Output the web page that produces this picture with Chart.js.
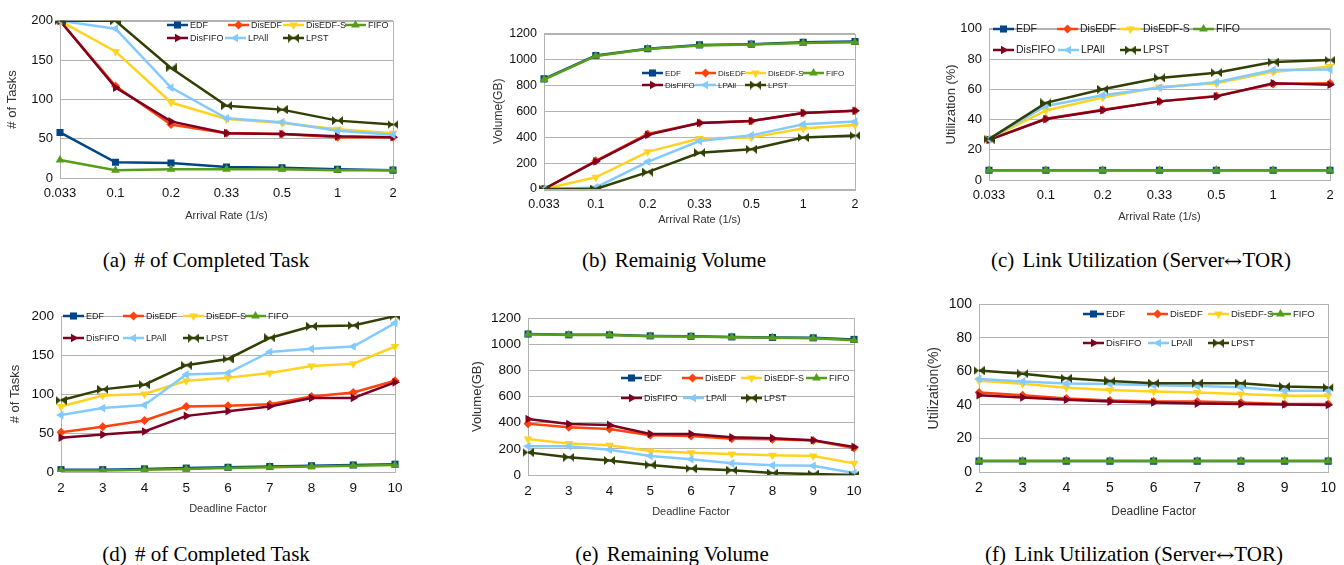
<!DOCTYPE html>
<html>
<head>
<meta charset="utf-8">
<script src="https://cdn.jsdelivr.net/npm/chart.js@4.4.0/dist/chart.umd.min.js"></script>
<style>
    html, body { margin: 0; padding: 0; background: #fff; }
    #page { position: relative; width: 1344px; height: 565px; overflow: hidden; }
    .panel { position: absolute; }
    .caption {
        position: absolute;
        font-family: 'Liberation Serif', 'Times New Roman', serif;
        font-size: 21px;
        color: #000;
        white-space: nowrap;
        transform: translate(-50%, -50%);
    }
    .caption .tag { margin-right: 3px; }
    .caption .arr {
        display: inline-block;
        font-family: 'DejaVu Serif', serif;
        font-size: 17px;
        transform: scaleX(1.3);
        margin: 0 2px;
    }
</style>
</head>
<body>
<div id="page"></div>
<script>
// Categories
const arrivalRates = ['0.033', '0.1', '0.2', '0.33', '0.5', '1', '2'];
const deadlineFactors = ['2', '3', '4', '5', '6', '7', '8', '9', '10'];
const seriesNames = ['EDF', 'DisEDF', 'DisEDF-S', 'FIFO', 'DisFIFO', 'LPAll', 'LPST'];

// Rows follow seriesNames order
const tasksVsRate = [
    [58, 20, 19, 14, 13, 11, 10],
    [200, 117, 68, 57, 56, 52, 52],
    [200, 161, 96, 75, 70, 62, 57],
    [23, 10, 11, 11, 11, 10, 10],
    [200, 115, 72, 57, 56, 53, 52],
    [200, 190, 115, 76, 71, 60, 55],
    [200, 200, 140, 92, 87, 73, 68]
];
const volumeVsRate = [
    [850, 1030, 1082, 1112, 1118, 1132, 1138],
    [0, 218, 425, 510, 525, 587, 603],
    [0, 90, 287, 390, 397, 467, 493],
    [845, 1027, 1080, 1108, 1115, 1127, 1133],
    [0, 213, 418, 510, 525, 587, 603],
    [0, 12, 210, 370, 414, 500, 520],
    [0, 0, 130, 280, 307, 397, 412]
];
const utilVsRate = [
    [6.5, 6.5, 6.5, 6.5, 6.5, 6.5, 6.5],
    [26.5, 40.5, 46.5, 52, 55.5, 63.5, 64],
    [27, 46, 54.5, 61.5, 64, 71.5, 75],
    [6.5, 6.5, 6.5, 6.5, 6.5, 6.5, 6.5],
    [26.5, 40.3, 46.2, 52, 55.3, 64, 63],
    [27, 49, 56, 61, 64.7, 72.7, 73],
    [27, 51, 60, 67.5, 71, 78, 79.3]
];
const tasksVsDeadline = [
    [3, 3, 4, 5, 6, 7, 8, 9, 10],
    [51, 58, 66, 84, 85, 87, 97, 102, 117],
    [84, 98, 100, 117, 121, 127, 136, 139, 161],
    [2, 2, 3, 4, 5, 6, 7, 8, 9],
    [44, 48, 52, 72, 78, 84, 95, 95, 115],
    [73, 82, 86, 125, 127, 154, 158, 161, 191],
    [92, 106, 112, 137, 145, 172, 187, 188, 200]
];
const volumeVsDeadline = [
    [1078, 1072, 1072, 1064, 1061, 1056, 1052, 1049, 1037],
    [392, 366, 352, 304, 299, 277, 274, 264, 207],
    [275, 240, 228, 183, 170, 161, 151, 146, 89],
    [1076, 1070, 1070, 1062, 1059, 1053, 1050, 1046, 1030],
    [428, 390, 383, 314, 314, 288, 282, 266, 215],
    [220, 220, 193, 146, 121, 89, 74, 70, 15],
    [173, 136, 111, 77, 49, 36, 15, 7, 0]
];
const utilVsDeadline = [
    [6.5, 6.5, 6.5, 6.5, 6.5, 6.5, 6.5, 6.5, 6.5],
    [47.4, 45.8, 43.9, 42.7, 42, 42, 41.5, 40.5, 40.5],
    [54.5, 52.6, 50.3, 48.9, 48, 47.5, 46.5, 45.5, 45.5],
    [6.5, 6.5, 6.5, 6.5, 6.5, 6.5, 6.5, 6.5, 6.5],
    [45.8, 44.5, 43.1, 42, 41.5, 40.8, 40.5, 40.3, 40],
    [55.5, 54, 52.8, 52.5, 51.8, 51.3, 50.5, 48.5, 48.5],
    [60.5, 58.6, 55.9, 54.3, 53, 53, 53, 51, 50.4]
];

// Series styling
const colors = ['#004586', '#ff420e', '#ffd320', '#579d1c', '#7e0021', '#83caff', '#314004'];
const rotations = [0, 0, 180, 0, 90, 270, 0];
const radii = [5, 4.5, 5, 5, 5, 5, 5];

// sideways hourglass marker for LPST
function makeBowtie(color) {
    const c = document.createElement('canvas');
    c.width = 11; c.height = 9;
    const g = c.getContext('2d');
    g.fillStyle = color;
    g.beginPath();
    g.moveTo(0, 0); g.lineTo(5.5, 4.5); g.lineTo(0, 9); g.closePath();
    g.moveTo(11, 0); g.lineTo(5.5, 4.5); g.lineTo(11, 9); g.closePath();
    g.fill();
    return c;
}
const bowtie = makeBowtie(colors[6]);
const pointStyles = ['rect', 'rectRot', 'triangle', 'triangle', 'triangle', 'triangle', bowtie];

const FONT = "'Liberation Sans', Arial, sans-serif";

const panels = [
    { labels: arrivalRates, data: tasksVsRate, max: 200, step: 50,
      yTitle: '# of Tasks', xTitle: 'Arrival Rate (1/s)', tag: '(a)', caption: '# of Completed Task',
      plot: [60, 16, 393, 178], yTitleX: 13, xTitleY: 216,
      fonts: { tick: 13, y: 13, x: 11, legend: 9 },
      legendX: [167, 228, 283, 345, 167, 225, 283], legendY: [25, 38], capX: 206, capY: 260 },
    { labels: arrivalRates, data: volumeVsRate, max: 1200, step: 200,
      yTitle: 'Volume(GB)', xTitle: 'Arrival Rate (1/s)', tag: '(b)', caption: 'Remainig Volume',
      plot: [544, 29, 855, 189], yTitleX: 498, xTitleY: 220,
      fonts: { tick: 12.5, y: 12, x: 11, legend: 8 },
      legendX: [642, 695, 745, 803, 642, 695, 745], legendY: [73, 85], capX: 674, capY: 260 },
    { labels: arrivalRates, data: utilVsRate, max: 100, step: 20,
      yTitle: 'Utilization (%)', xTitle: 'Arrival Rate (1/s)', tag: '(c)', caption: 'Link Utilization (Server',
      plot: [989, 24, 1330, 180], yTitleX: 952, xTitleY: 217,
      fonts: { tick: 13, y: 13, x: 11, legend: 10.5 },
      legendX: [993, 1057, 1120, 1193, 993, 1058, 1120], legendY: [29, 50], capX: 1141, capY: 260 },
    { labels: deadlineFactors, data: tasksVsDeadline, max: 200, step: 50,
      yTitle: '# of Tasks', xTitle: 'Deadline Factor', tag: '(d)', caption: '# of Completed Task',
      plot: [61, 311, 395, 472], yTitleX: 16, xTitleY: 509,
      fonts: { tick: 13.5, y: 13, x: 11, legend: 9 },
      legendX: [63, 123, 183, 245, 63, 123, 183], legendY: [316, 338], capX: 206, capY: 554 },
    { labels: deadlineFactors, data: volumeVsDeadline, max: 1200, step: 200,
      yTitle: 'Volume(GB)', xTitle: 'Deadline Factor', tag: '(e)', caption: 'Remaining Volume',
      plot: [528, 313, 854, 475], yTitleX: 478, xTitleY: 512,
      fonts: { tick: 13.5, y: 13, x: 11, legend: 9 },
      legendX: [621, 682, 741, 806, 621, 683, 741], legendY: [378, 398], capX: 672, capY: 554 },
    { labels: deadlineFactors, data: utilVsDeadline, max: 100, step: 20,
      yTitle: 'Utilization(%)', xTitle: 'Deadline Factor', tag: '(f)', caption: 'Link Utilization (Server',
      plot: [979, 299, 1332, 472], yTitleX: 934, xTitleY: 512,
      fonts: { tick: 14, y: 14, x: 12, legend: 9.5 },
      legendX: [1083, 1147, 1208, 1270, 1083, 1148, 1208], legendY: [314, 343], capX: 1134, capY: 554 }
];

// draw one marker the same way Chart.js does
function drawMarker(ctx, i, x, y) {
    const style = pointStyles[i];
    const r = radii[i];
    ctx.save();
    ctx.fillStyle = colors[i];
    if (style instanceof HTMLCanvasElement) {
        ctx.drawImage(style, x - style.width / 2, y - style.height / 2);
        ctx.restore();
        return;
    }
    ctx.beginPath();
    if (style === 'rect') {
        const s = Math.SQRT1_2 * r;
        ctx.rect(x - s, y - s, 2 * s, 2 * s);
    } else if (style === 'rectRot') {
        ctx.moveTo(x, y - r); ctx.lineTo(x + r, y); ctx.lineTo(x, y + r); ctx.lineTo(x - r, y);
        ctx.closePath();
    } else {
        let rad = rotations[i] * Math.PI / 180;
        for (let k = 0; k < 3; k++) {
            const px = x + Math.sin(rad) * r, py = y - Math.cos(rad) * r;
            if (k === 0) ctx.moveTo(px, py); else ctx.lineTo(px, py);
            rad += 2 * Math.PI / 3;
        }
        ctx.closePath();
    }
    ctx.fill();
    ctx.restore();
}

// plot frame + legend inside the plot area
const framePlugin = {
    id: 'frameAndLegend',
    beforeDatasetsDraw(chart) {
        const a = chart.chartArea;
        const ctx = chart.ctx;
        ctx.save();
        ctx.strokeStyle = '#b3b3b3';
        ctx.lineWidth = 1;
        ctx.strokeRect(Math.round(a.left) + 0.5, Math.round(a.top) + 0.5,
            Math.round(a.right - a.left), Math.round(a.bottom - a.top));
        ctx.restore();
    },
    afterDatasetsDraw(chart, args, opts) {
        const ctx = chart.ctx;
        ctx.save();
        ctx.font = opts.fontSize + 'px ' + FONT;
        ctx.textBaseline = 'middle';
        ctx.fillStyle = '#222';
        seriesNames.forEach(function(name, i) {
            const x = opts.xs[i] - opts.offX;
            const y = (i < 4 ? opts.ys[0] : opts.ys[1]) - opts.offY;
            ctx.strokeStyle = colors[i];
            ctx.lineWidth = 2.5;
            ctx.beginPath();
            ctx.moveTo(x, y);
            ctx.lineTo(x + 21, y);
            ctx.stroke();
            drawMarker(ctx, i, x + 10.5, y);
            ctx.fillText(name, x + 23, y + 0.5);
        });
        ctx.restore();
    }
};

const page = document.getElementById('page');

panels.forEach(function(p) {
    const left = Math.round(p.yTitleX - p.fonts.y * 1.2 / 2);
    const top = p.plot[1] - 10;
    const right = Math.min(1344, p.plot[2] + 16);
    const bottom = Math.round(p.xTitleY + p.fonts.x * 1.2 / 2);
    const w = right - left;
    const h = bottom - top;
    const yWidth = p.plot[0] - left;
    const xHeight = bottom - p.plot[3];

    const div = document.createElement('div');
    div.className = 'panel';
    div.style.left = left + 'px';
    div.style.top = top + 'px';
    const canvas = document.createElement('canvas');
    canvas.width = w;
    canvas.height = h;
    canvas.style.width = w + 'px';
    canvas.style.height = h + 'px';
    div.appendChild(canvas);
    page.appendChild(div);

    new Chart(canvas, {
        type: 'line',
        data: {
            labels: p.labels,
            datasets: seriesNames.map(function(name, i) {
                return {
                    label: name,
                    data: p.data[i],
                    borderColor: colors[i],
                    backgroundColor: colors[i],
                    borderWidth: 2.5,
                    pointStyle: pointStyles[i],
                    rotation: rotations[i],
                    pointRadius: radii[i],
                    pointBorderWidth: 0,
                    tension: 0,
                    order: 10 - i
                };
            })
        },
        options: {
            responsive: false,
            animation: false,
            events: [],
            layout: { padding: { top: p.plot[1] - top, right: right - p.plot[2], left: 0, bottom: 0 } },
            plugins: {
                legend: { display: false },
                tooltip: { enabled: false },
                frameAndLegend: { xs: p.legendX, ys: p.legendY, offX: left, offY: top, fontSize: p.fonts.legend }
            },
            scales: {
                x: {
                    grid: { display: false, drawTicks: false },
                    border: { display: false },
                    ticks: { font: { family: FONT, size: p.fonts.tick }, color: '#111', padding: 8, maxRotation: 0, autoSkip: false },
                    title: { display: true, text: p.xTitle, font: { family: FONT, size: p.fonts.x }, color: '#333', padding: 0 },
                    afterFit: function(scale) { scale.height = xHeight; }
                },
                y: {
                    min: 0,
                    max: p.max,
                    grid: { color: '#b3b3b3', drawTicks: false },
                    border: { display: false },
                    ticks: {
                        stepSize: p.step,
                        font: { family: FONT, size: p.fonts.tick },
                        color: '#111',
                        padding: 7,
                        callback: function(value) { return String(value); }
                    },
                    title: { display: true, text: p.yTitle, font: { family: FONT, size: p.fonts.y }, color: '#333', padding: 0 },
                    afterFit: function(scale) { scale.width = yWidth; }
                }
            }
        },
        plugins: [framePlugin]
    });

    const cap = document.createElement('div');
    cap.className = 'caption';
    cap.style.left = p.capX + 'px';
    cap.style.top = p.capY + 'px';
    let html = '<span class="tag">' + p.tag + '</span> ' + p.caption;
    if (p.caption.endsWith('(Server')) {
        html += '<span class="arr">\u2194</span>TOR)';
    }
    cap.innerHTML = html;
    page.appendChild(cap);
});
</script>
</body>
</html>
